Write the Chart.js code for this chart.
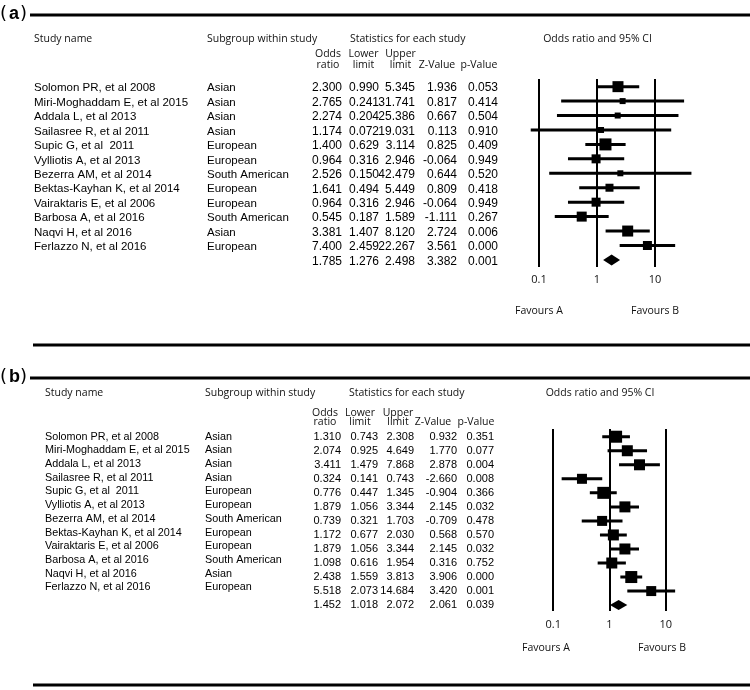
<!DOCTYPE html>
<html>
<head>
<meta charset="utf-8">
<script src="https://cdn.jsdelivr.net/npm/chart.js@4.4.1/dist/chart.umd.min.js"></script>
<style>
  html, body { margin: 0; padding: 0; background: #fff; }
  #page { position: relative; width: 750px; height: 690px; overflow: hidden; }
  #page canvas { position: absolute; left: 0; }
</style>
</head>
<body>
<div id="page">
  <canvas id="panelA" width="750" height="340" style="top:0"></canvas>
  <canvas id="panelB" width="750" height="350" style="top:340px"></canvas>
</div>
<script>
// ---- data ----
const studies = [
  'Solomon PR, et al 2008', 'Miri-Moghaddam E, et al 2015', 'Addala L, et al 2013',
  'Sailasree R, et al 2011', 'Supic G, et al  2011', 'Vylliotis A, et al 2013',
  'Bezerra AM, et al 2014', 'Bektas-Kayhan K, et al 2014', 'Vairaktaris E, et al 2006',
  'Barbosa A, et al 2016', 'Naqvi H, et al 2016', 'Ferlazzo N, et al 2016'
];
const subgroups = [
  'Asian', 'Asian', 'Asian', 'Asian', 'European', 'European', 'South American',
  'European', 'European', 'South American', 'Asian', 'European'
];

// panel (a)
const orA  = [2.300, 2.765, 2.274, 1.174, 1.400, 0.964, 2.526, 1.641, 0.964, 0.545, 3.381, 7.400];
const lowA = [0.990, 0.241, 0.204, 0.072, 0.629, 0.316, 0.150, 0.494, 0.316, 0.187, 1.407, 2.459];
const upA  = [5.345, 31.741, 25.386, 19.031, 3.114, 2.946, 42.479, 5.449, 2.946, 1.589, 8.120, 22.267];
const zA   = [1.936, 0.817, 0.667, 0.113, 0.825, -0.064, 0.644, 0.809, -0.064, -1.111, 2.724, 3.561];
const pA   = [0.053, 0.414, 0.504, 0.910, 0.409, 0.949, 0.520, 0.418, 0.949, 0.267, 0.006, 0.000];
const totalA = [1.785, 1.276, 2.498, 3.382, 0.001]; // OR, lower, upper, Z, p
const weightA = [11, 6, 6, 6, 12, 9, 6, 8, 9, 10, 11, 9];

// panel (b)
const orB  = [1.310, 2.074, 3.411, 0.324, 0.776, 1.879, 0.739, 1.172, 1.879, 1.098, 2.438, 5.518];
const lowB = [0.743, 0.925, 1.479, 0.141, 0.447, 1.056, 0.321, 0.677, 1.056, 0.616, 1.559, 2.073];
const upB  = [2.308, 4.649, 7.868, 0.743, 1.345, 3.344, 1.703, 2.030, 3.344, 1.954, 3.813, 14.684];
const zB   = [0.932, 1.770, 2.878, -2.660, -0.904, 2.145, -0.709, 0.568, 2.145, 0.316, 3.906, 3.420];
const pB   = [0.351, 0.077, 0.004, 0.008, 0.366, 0.032, 0.478, 0.570, 0.032, 0.752, 0.000, 0.001];
const totalB = [1.452, 1.018, 2.072, 2.061, 0.039];
const weightB = [12, 11, 11, 10, 12, 11, 10, 11, 11, 11, 12, 10];

const tickValues = [0.1, 1, 10];
const tickLabels = ['0.1', '1', '10'];
const statHeaders = [['Odds', 'ratio'], ['Lower', 'limit'], ['Upper', 'limit'], ['', 'Z-Value'], ['', 'p-Value']];

// ---- styles ----
const ARIAL = '"Liberation Sans", Arial, sans-serif';
const HEAD_FONT = '10.5px "Open Sans", sans-serif';
const LETTER_FONT = 'bold 18px ' + ARIAL;
const PAREN_FONT = '18px "DejaVu Sans", sans-serif';

function fmt(v) { return v.toFixed(3); }

// table text, rules, diamond — all placed from the chart's scales
function makeTextPlugin(p) {
  return {
    id: 'forestText',
    afterDraw(chart) {
      const ctx = chart.ctx, xs = chart.scales.x, ys = chart.scales.y;
      ctx.save();
      ctx.fillStyle = '#000';
      ctx.strokeStyle = '#000';

      // horizontal rules
      ctx.lineWidth = 3;
      p.rules.forEach(r => {
        ctx.beginPath(); ctx.moveTo(r.x0, r.y); ctx.lineTo(750, r.y); ctx.stroke();
      });

      // panel letter
      ctx.textBaseline = 'middle';
      ctx.textAlign = 'left';
      ctx.font = PAREN_FONT; ctx.fillText('(', 0, p.labelY);
      ctx.font = LETTER_FONT; ctx.fillText(p.letter, 9, p.labelY);
      ctx.font = PAREN_FONT; ctx.fillText(')', 20, p.labelY);

      // headers
      ctx.fillStyle = '#111';
      ctx.font = HEAD_FONT;
      ctx.fillText('Study name', p.nameX, p.headY);
      ctx.fillText('Subgroup within study', p.groupX, p.headY);
      ctx.fillText('Statistics for each study', p.statX, p.headY);
      ctx.textAlign = 'center';
      ctx.fillText('Odds ratio and 95% CI', p.plotTitleX, p.headY);
      statHeaders.forEach((h, j) => {
        ctx.fillText(h[0], p.headCX[j], p.subY[0]);
        ctx.fillText(h[1], p.headCX[j], p.subY[1]);
      });
      ctx.fillText('Favours A', p.favX[0], p.favY);
      ctx.fillText('Favours B', p.favX[1], p.favY);

      // study rows
      ctx.fillStyle = '#000';
      ctx.font = p.nameFont;
      ctx.textAlign = 'left';
      studies.forEach((s, i) => {
        const yy = p.nameY(ys, i);
        ctx.fillText(s, p.nameX, yy);
        ctx.fillText(subgroups[i], p.groupX, yy);
      });
      ctx.font = p.valueFont;
      ctx.textAlign = 'right';
      const cols = p.cols;
      for (let i = 0; i < studies.length; i++) {
        const yy = p.valY(ys, i);
        cols.forEach((c, j) => ctx.fillText(fmt(c[i]), p.colR[j], yy));
      }
      const yt = p.valY(ys, studies.length);
      p.total.forEach((v, j) => ctx.fillText(fmt(v), p.colR[j], yt));

      // summary diamond
      const yd = ys.getPixelForValue(studies.length);
      ctx.beginPath();
      ctx.moveTo(xs.getPixelForValue(p.total[1]), yd);
      ctx.lineTo(xs.getPixelForValue(p.total[0]), yd - p.dh);
      ctx.lineTo(xs.getPixelForValue(p.total[2]), yd);
      ctx.lineTo(xs.getPixelForValue(p.total[0]), yd + p.dh);
      ctx.closePath();
      ctx.fill();
      ctx.restore();
    }
  };
}

function ciPoints(low, up) {
  const pts = [];
  low.forEach((l, i) => {
    pts.push({x: l, y: i}, {x: up[i], y: i}, {x: 1, y: null});
  });
  return pts;
}

function makeChart(id, d, lay) {
  return new Chart(document.getElementById(id), {
    type: 'scatter',
    data: {
      datasets: [
        {
          data: d.or.map((v, i) => ({x: v, y: i})),
          pointStyle: 'rect',
          pointRadius: d.weight.map(w => w / Math.SQRT2),
          backgroundColor: '#000',
          borderWidth: 0
        },
        {
          data: ciPoints(d.low, d.up),
          showLine: true,
          spanGaps: false,
          borderColor: '#000',
          borderWidth: 3,
          pointRadius: 0
        }
      ]
    },
    options: {
      responsive: false,
      animation: false,
      events: [],
      layout: { padding: lay.padding },
      plugins: { legend: { display: false }, tooltip: { enabled: false } },
      scales: {
        x: {
          type: 'logarithmic',
          min: 0.01,
          max: 100,
          afterBuildTicks: s => { s.ticks = tickValues.map(v => ({value: v})); },
          grid: { color: '#000', lineWidth: 2, drawTicks: false },
          border: { display: false },
          ticks: {
            autoSkip: false,
            maxRotation: 0,
            padding: lay.tickPad,
            color: '#111',
            font: { family: '"Open Sans", sans-serif', size: 11 },
            callback: (v) => tickLabels[tickValues.indexOf(v)] ?? ''
          }
        },
        y: { type: 'linear', reverse: true, min: lay.yMin, max: lay.yMax, display: false }
      }
    },
    plugins: [makeTextPlugin(lay.text)]
  });
}

// panel (a)
makeChart('panelA',
  { or: orA, low: lowA, up: upA, weight: weightA },
  {
    padding: { left: 481, right: 37, top: 79, bottom: 47.8 },
    tickPad: 6, yMin: -0.53, yMax: 12.49,
    text: {
      letter: 'a', labelY: 14,
      nameFont: '11.5px ' + ARIAL, valueFont: '12px ' + ARIAL,
      rules: [{x0: 30, y: 15}],
      nameX: 34, groupX: 207, statX: 350, headY: 39,
      plotTitleX: 597.5,
      headCX: [328, 363.5, 400.5, 437, 479], subY: [54.5, 65.5],
      colR: [342, 379, 415, 457, 498],
      cols: [orA, lowA, upA, zA, pA], total: totalA,
      nameY: (ys, i) => ys.getPixelForValue(i) + 1.5,
      valY: (ys, i) => ys.getPixelForValue(i) + 1.5,
      favX: [539, 655], favY: 311, dh: 5.5
    }
  });

// panel (b)
makeChart('panelB',
  { or: orB, low: lowB, up: upB, weight: weightB },
  {
    padding: { left: 497, right: 28, top: 89, bottom: 51.8 },
    tickPad: 7, yMin: -0.55, yMax: 12.42,
    text: {
      letter: 'b', labelY: 37,
      nameFont: '10.8px ' + ARIAL, valueFont: '11px ' + ARIAL,
      rules: [{x0: 33, y: 5}, {x0: 30, y: 38}, {x0: 33, y: 345}],
      nameX: 45, groupX: 205, statX: 349, headY: 53,
      plotTitleX: 600,
      headCX: [325, 360, 398, 433, 476], subY: [73, 82.5],
      colR: [341, 378, 414, 457, 494],
      cols: [orB, lowB, upB, zB, pB], total: totalB,
      nameY: (ys, i) => ys.getPixelForValue(0) + i * 13.7,
      valY: (ys, i) => ys.getPixelForValue(i),
      favX: [546, 662], favY: 308, dh: 5
    }
  });
</script>
</body>
</html>
